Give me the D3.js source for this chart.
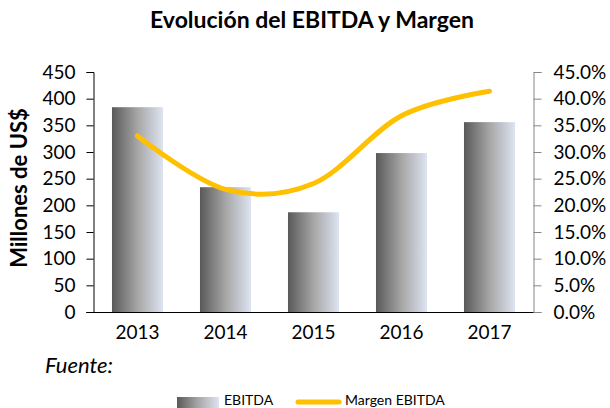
<!DOCTYPE html>
<html><head><meta charset="utf-8">
<script src="https://cdn.jsdelivr.net/npm/d3@7"></script>
<style>body{margin:0;background:#fff}svg{display:block}text{font-family:Lato,"Open Sans",sans-serif}</style>
</head><body><svg id="c" width="610" height="408"></svg>
<script>
const years = ["2013","2014","2015","2016","2017"];
const ebitda = [384, 234, 187, 298, 356];
const margen = [0.330, 0.230, 0.241, 0.368, 0.414];
const leftTicks = [0,50,100,150,200,250,300,350,400,450];
const rightTicks = [0,0.05,0.10,0.15,0.20,0.25,0.30,0.35,0.40,0.45];

const svg = d3.select("#c");
const L = 93.5, R = 533.5, T = 72, B = 312;
const x = d3.scaleBand().domain(years).range([L, R]).paddingInner(0.42).paddingOuter(0.21);
const yL = d3.scaleLinear().domain([0,450]).range([B, T]);
const yR = d3.scaleLinear().domain([0,0.45]).range([B, T]);

const defs = svg.append("defs");
const g = defs.append("linearGradient").attr("id","bg").attr("x1","0").attr("x2","1").attr("y1","0").attr("y2","0");
g.append("stop").attr("offset","0%").attr("stop-color","#595959");
g.append("stop").attr("offset","50%").attr("stop-color","#a6a6a6");
g.append("stop").attr("offset","100%").attr("stop-color","#dde4f1");

svg.append("text").attr("x",312).attr("y",28).attr("text-anchor","middle")
  .attr("font-size",23).attr("font-weight","bold").attr("fill","#000").text("Evolución del EBITDA y Margen");

svg.append("g").selectAll("rect").data(years).join("rect")
  .attr("x", d=>x(d)).attr("width", x.bandwidth())
  .attr("y", (d,i)=>yL(ebitda[i])).attr("height",(d,i)=>B - yL(ebitda[i]))
  .attr("fill","url(#bg)");

// left axis
const ax = d3.axisLeft(yL).tickValues(leftTicks).tickSize(7).tickPadding(11);
const gl = svg.append("g").attr("transform",`translate(${L},0)`).call(ax);
gl.select(".domain").attr("stroke","#000").attr("d",`M-7,${T}.5H0.5V${B}.5H-7`);
gl.selectAll(".tick line").attr("stroke","#000");
gl.selectAll("text").attr("font-size",19).attr("fill","#000").attr("font-family","Lato");

// right axis
const ar = d3.axisRight(yR).tickValues(rightTicks).tickSize(8).tickPadding(12).tickFormat(d3.format(".1%"));
const gr = svg.append("g").attr("transform",`translate(${R},0)`).call(ar);
gr.select(".domain").attr("stroke","#868686");
gr.selectAll(".tick line").attr("stroke","#868686");
gr.selectAll("text").attr("font-size",19).attr("fill","#000").attr("font-family","Lato");

// x axis
const axb = d3.axisBottom(x).tickSize(0).tickPadding(14);
const gb = svg.append("g").attr("transform",`translate(0,${B})`).call(axb);
gb.select(".domain").attr("stroke","#000").attr("d",`M${L-7},0.5H${R}`);
gb.selectAll("text").attr("font-size",19).attr("fill","#000").attr("font-family","Lato");

// line
const line = d3.line().x((d,i)=>x(years[i]) + x.bandwidth()/2).y(d=>yR(d)).curve(d3.curveCatmullRom.alpha(0));
svg.append("path").datum(margen).attr("d", line).attr("fill","none")
  .attr("stroke","#ffc000").attr("stroke-width",5).attr("stroke-linecap","round");

svg.append("text").attr("transform","translate(27,188) rotate(-90)").attr("text-anchor","middle")
  .attr("font-size",22).attr("font-weight","bold").text("Millones de US$");

svg.append("text").attr("x",45).attr("y",373).attr("font-size",22).attr("font-style","italic").text("Fuente:");

// legend
const lg = svg.append("g");
lg.append("rect").attr("x",177).attr("y",397).attr("width",42).attr("height",12).attr("fill","url(#bg)");
lg.append("text").attr("x",224).attr("y",405).attr("font-size",14).text("EBITDA");
lg.append("line").attr("x1",298).attr("x2",339).attr("y1",402).attr("y2",402).attr("stroke","#ffc000").attr("stroke-width",5).attr("stroke-linecap","round");
lg.append("text").attr("x",345).attr("y",405).attr("font-size",14).text("Margen EBITDA");
</script></body></html>
